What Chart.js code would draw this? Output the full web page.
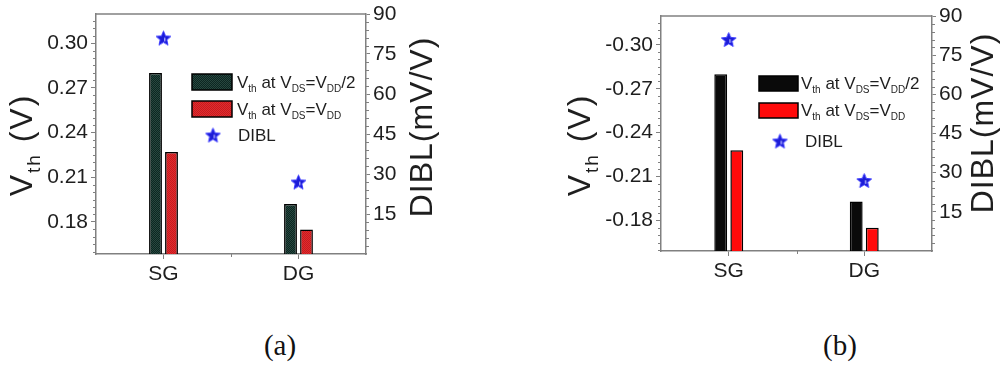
<!DOCTYPE html>
<html>
<head>
<meta charset="utf-8">
<script src="https://cdn.jsdelivr.net/npm/chart.js@4.4.1/dist/chart.umd.min.js"></script>
<style>
  html, body { margin: 0; padding: 0; background: #fff; }
  #wrap { position: relative; width: 1003px; height: 371px; overflow: hidden; }
  #wrap canvas { position: absolute; top: 0; }
  #ca { left: 0; }
  #cb { left: 500px; }
  .cap { position: absolute; top: 330px; line-height: 30px; font-family: 'Liberation Serif', 'Times New Roman', serif;
         font-size: 29px; color: #111; transform: translateX(-50%); }
</style>
</head>
<body>
<div id="wrap">
  <canvas id="ca" width="500" height="300"></canvas>
  <canvas id="cb" width="503" height="300"></canvas>
  <div class="cap" style="left:280px">(a)</div>
  <div class="cap" style="left:840px">(b)</div>
</div>
<script>
// ---- data ----
const categories = ['SG', 'DG'];
// (a) n-type device: threshold voltage (V) and DIBL (mV/V)
const vthHalfA = [0.280, 0.192];   // Vth at VDS = VDD/2
const vthFullA = [0.227, 0.175];   // Vth at VDS = VDD
const diblA = [81, 27];
// (b) p-type device
const vthHalfB = [-0.280, -0.193];
const vthFullB = [-0.228, -0.175];
const diblB = [81, 27];
// axis tick labels
const vthTicksA = [0.18, 0.21, 0.24, 0.27, 0.30];
const vthTicksB = [-0.30, -0.27, -0.24, -0.21, -0.18];
const diblTicks = [15, 30, 45, 60, 75, 90];

// ---- styling helpers ----
const FAM = "'Liberation Sans', Arial, sans-serif";
const AXIS = '#808080';
const TEXT = '#1e1e1e';
Chart.defaults.font.family = FAM;

function checker(c1, c2) {
  const c = document.createElement('canvas');
  c.width = c.height = 2;
  const g = c.getContext('2d');
  g.fillStyle = c1; g.fillRect(0, 0, 2, 2);
  g.fillStyle = c2; g.fillRect(0, 0, 1, 1); g.fillRect(1, 1, 1, 1);
  return g.createPattern(c, 'repeat');
}

function makeStar(size) {
  const c = document.createElement('canvas');
  c.width = c.height = size;
  const g = c.getContext('2d');
  const cx = size / 2, cy = size / 2 + 0.8, R = size / 2 - 0.8, r = R * 0.45;
  g.beginPath();
  for (let i = 0; i < 10; i++) {
    const ang = -Math.PI / 2 + i * Math.PI / 5;
    const rad = i % 2 ? r : R;
    g.lineTo(cx + rad * Math.cos(ang), cy + rad * Math.sin(ang));
  }
  g.closePath();
  g.fillStyle = '#1c1cd6';
  g.fill();
  g.strokeStyle = '#3b3bff';
  g.lineWidth = 1;
  g.stroke();
  g.fillStyle = 'rgba(190,190,255,0.85)';
  g.fillRect(cx + 0.5, cy - 1, 1.5, 3.5);
  return c;
}
const STAR = makeStar(17);

function runsWidth(ctx, runs) {
  let w = 0;
  runs.forEach(r => { ctx.font = r.size + 'px ' + FAM; w += ctx.measureText(r.t).width; });
  return w;
}
function drawRuns(ctx, runs, x, y) {
  runs.forEach(r => {
    ctx.font = r.size + 'px ' + FAM;
    ctx.fillText(r.t, x, y + (r.dy || 0));
    x += ctx.measureText(r.t).width;
  });
}
function drawVertical(ctx, runs, baseX, centerY, spacing) {
  ctx.save();
  ctx.translate(baseX, centerY);
  ctx.rotate(-Math.PI / 2);
  if ('letterSpacing' in ctx) ctx.letterSpacing = spacing + 'px';
  ctx.textAlign = 'left';
  ctx.textBaseline = 'alphabetic';
  ctx.fillStyle = TEXT;
  const w = runsWidth(ctx, runs);
  drawRuns(ctx, runs, -w / 2, 0);
  ctx.restore();
}

const vthTitle = [{ t: 'V', size: 32 }, { t: 'th', size: 19, dy: 8 }, { t: ' (V)', size: 32 }];
const diblTitle = [{ t: 'DIBL(mV/V)', size: 32 }];
const legHalf = [{ t: 'V', size: 17 }, { t: 'th', size: 10, dy: 4 }, { t: ' at V', size: 17 }, { t: 'DS', size: 10, dy: 4 },
                 { t: '=V', size: 17 }, { t: 'DD', size: 10, dy: 4 }, { t: '/2', size: 17 }];
const legFull = [{ t: 'V', size: 17 }, { t: 'th', size: 10, dy: 4 }, { t: ' at V', size: 17 }, { t: 'DS', size: 10, dy: 4 },
                 { t: '=V', size: 17 }, { t: 'DD', size: 10, dy: 4 }];
const legDibl = [{ t: 'DIBL', size: 17 }];

// frame, minor ticks, axis titles and legend
const decor = {
  id: 'decor',
  afterDraw(chart, args, s) {
    const ctx = chart.ctx, a = chart.chartArea;
    const y = chart.scales.y, y2 = chart.scales.y2, x = chart.scales.x;
    ctx.save();
    ctx.strokeStyle = AXIS;
    ctx.lineWidth = 1.5;
    ctx.beginPath(); ctx.moveTo(a.left, a.top); ctx.lineTo(a.right, a.top); ctx.stroke();

    ctx.lineWidth = 1;
    ctx.beginPath();
    // left minor ticks every 0.005
    for (let k = Math.ceil(y.min / 0.005); k * 0.005 <= y.max; k++) {
      if (k % 6 === 0) continue;
      const py = Math.round(y.getPixelForValue(k * 0.005)) + 0.5;
      ctx.moveTo(a.left, py); ctx.lineTo(a.left - 3, py);
    }
    // right minor ticks every 3
    for (let k = 1; k * 3 < 90; k++) {
      if (k % 5 === 0) continue;
      const py = Math.round(y2.getPixelForValue(k * 3)) + 0.5;
      ctx.moveTo(a.right, py); ctx.lineTo(a.right + 3, py);
    }
    // minor tick between the categories
    const px = Math.round(x.getPixelForValue(0.5)) + 0.5;
    ctx.moveTo(px, a.bottom); ctx.lineTo(px, a.bottom + 3);
    ctx.stroke();

    // axis titles
    drawVertical(ctx, vthTitle, s.vthX, s.vthY, 2);
    drawVertical(ctx, diblTitle, s.diblX, s.diblY, 1);

    // legend
    const L = s.legend;
    [[L.box1, s.fillHalf], [L.box2, s.fillFull]].forEach(([b, f]) => {
      ctx.fillStyle = f;
      ctx.fillRect(b.x, b.y, b.w, b.h);
      ctx.strokeStyle = '#000';
      ctx.lineWidth = 1.5;
      ctx.strokeRect(b.x, b.y, b.w, b.h);
    });
    ctx.drawImage(STAR, L.star.x - STAR.width / 2, L.star.y - STAR.height / 2);
    ctx.fillStyle = TEXT;
    ctx.textAlign = 'left';
    ctx.textBaseline = 'alphabetic';
    drawRuns(ctx, legHalf, L.textX, L.base1);
    drawRuns(ctx, legFull, L.textX, L.base2);
    drawRuns(ctx, legDibl, L.diblX, L.base3);
    ctx.restore();
  }
};

function makeChart(id, s) {
  const grid = (len) => ({ display: true, drawOnChartArea: false, drawTicks: true, tickLength: len, color: AXIS, lineWidth: 1, offset: false });
  const border = { display: true, color: AXIS, width: 1.5 };
  const tickFont = { size: 21, family: FAM };
  return new Chart(document.getElementById(id), {
    type: 'bar',
    data: {
      labels: categories,
      datasets: [
        { label: 'Vth at VDS=VDD/2', data: s.half, backgroundColor: s.fillHalf, borderColor: '#000', borderWidth: 1.5,
          base: s.base, yAxisID: 'y', order: 2 },
        { label: 'Vth at VDS=VDD', data: s.full, backgroundColor: s.fillFull, borderColor: '#000', borderWidth: 1.5,
          base: s.base, yAxisID: 'y', order: 2 },
        { type: 'line', label: 'DIBL', data: s.dibl, yAxisID: 'y2', showLine: false, pointStyle: STAR,
          pointRadius: 8, order: 1 }
      ]
    },
    options: {
      responsive: false,
      animation: false,
      devicePixelRatio: 1,
      datasets: { bar: { categoryPercentage: 0.237, barPercentage: 0.8 } },
      layout: { padding: { top: s.padTop, left: 0, right: 0, bottom: 0 } },
      plugins: { legend: { display: false }, tooltip: { enabled: false }, decor: s },
      scales: {
        x: {
          type: 'category', offset: true, grid: grid(5), border,
          ticks: { font: tickFont, color: TEXT, padding: 3 },
          afterFit(sc) { sc.height = s.xHeight; sc.paddingLeft = 0; sc.paddingRight = 0; }
        },
        y: {
          type: 'linear', position: 'left', min: s.min, max: s.max, reverse: s.reverse,
          grid: grid(5), border,
          ticks: { font: tickFont, color: TEXT, padding: 3, callback: v => v.toFixed(2) },
          afterBuildTicks(sc) { sc.ticks = s.vthTicks.map(v => ({ value: v })); },
          afterFit(sc) { sc.width = s.yWidth; sc.paddingTop = 0; sc.paddingBottom = 0; }
        },
        y2: {
          type: 'linear', position: 'right', min: 0, max: 90,
          grid: grid(4), border,
          ticks: { font: tickFont, color: TEXT, padding: 3, callback: v => String(v) },
          afterBuildTicks(sc) { sc.ticks = diblTicks.map(v => ({ value: v })); },
          afterFit(sc) { sc.width = s.y2Width; sc.paddingTop = 0; sc.paddingBottom = 0; }
        }
      }
    },
    plugins: [decor]
  });
}

makeChart('ca', {
  half: vthHalfA, full: vthFullA, dibl: diblA, vthTicks: vthTicksA,
  min: 0.1585, max: 0.3195, reverse: false, base: 0.1585,
  fillHalf: checker('#0c2621', '#27473f'), fillFull: checker('#e42a2c', '#c21d21'),
  padTop: 14, yWidth: 96, y2Width: 134, xHeight: 46,
  vthX: 32, vthY: 145, diblX: 432, diblY: 127,
  legend: { box1: { x: 192, y: 74, w: 40, h: 16 }, box2: { x: 192, y: 101, w: 40, h: 16 },
            star: { x: 213, y: 135 }, textX: 237, diblX: 238, base1: 88, base2: 115, base3: 141 }
});

makeChart('cb', {
  half: vthHalfB, full: vthFullB, dibl: diblB, vthTicks: vthTicksB,
  min: -0.3197, max: -0.1592, reverse: true, base: -0.1592,
  fillHalf: '#0a0a0a', fillFull: '#ff0a0a',
  padTop: 16, yWidth: 161, y2Width: 71, xHeight: 49,
  vthX: 90, vthY: 145, diblX: 493, diblY: 123,
  legend: { box1: { x: 259, y: 76, w: 39, h: 15 }, box2: { x: 259, y: 103, w: 39, h: 15 },
            star: { x: 280, y: 141 }, textX: 301, diblX: 305, base1: 89, base2: 116, base3: 147 }
});
</script>
</body>
</html>
